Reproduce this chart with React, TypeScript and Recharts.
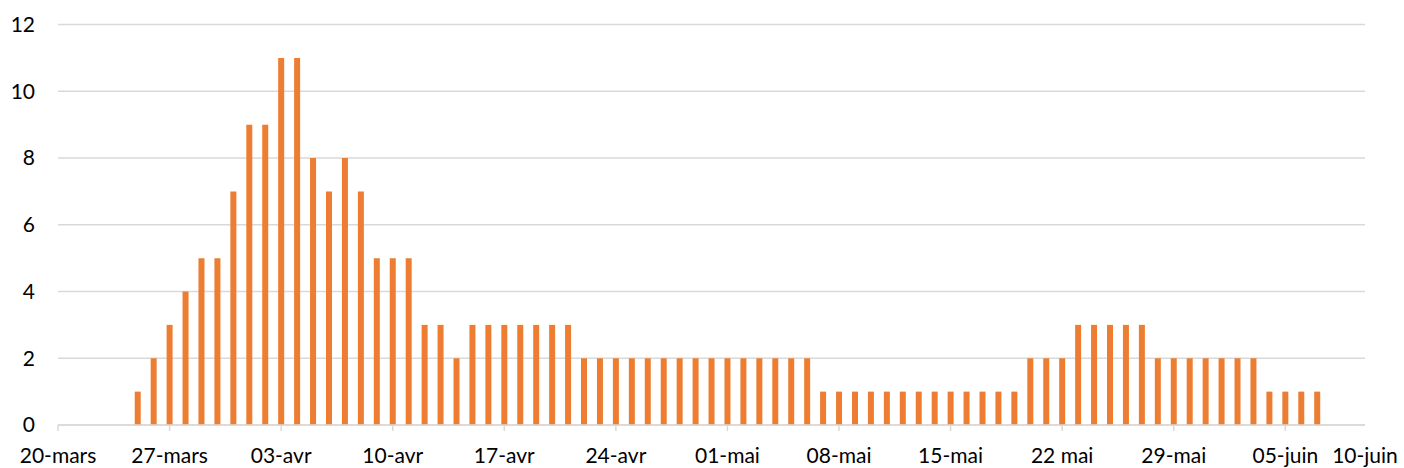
import React from "react";
import { BarChart, Bar, XAxis, YAxis, CartesianGrid } from "recharts";

// daily counts, first value is 25-mars (day 5 counted from 20-mars)
const FIRST_DAY = 5;
const dailyCounts = [
  1, 2, 3, 4, 5, 5, 7, 9, 9, 11, 11, 8, 7, 8, 7, 5, 5, 5, 3, 3, 2,
  3, 3, 3, 3, 3, 3, 3,
  2, 2, 2, 2, 2, 2, 2, 2, 2, 2, 2, 2, 2, 2, 2,
  1, 1, 1, 1, 1, 1, 1, 1, 1, 1, 1, 1, 1,
  2, 2, 2,
  3, 3, 3, 3, 3,
  2, 2, 2, 2, 2, 2, 2,
  1, 1, 1, 1,
];

const xTickDays = [0, 7, 14, 21, 28, 35, 42, 49, 56, 63, 70, 77, 82];
const xTickLabels = [
  "20-mars", "27-mars", "03-avr", "10-avr", "17-avr", "24-avr", "01-mai",
  "08-mai", "15-mai", "22 mai", "29-mai", "05-juin", "10-juin",
];
const yTicks = [0, 2, 4, 6, 8, 10, 12];

const data = dailyCounts.map((v, i) => ({ day: FIRST_DAY + i, value: v }));

const GRID = "#d9d9d9";
const FONT = "Lato, 'Open Sans', sans-serif";

function XTick(props: any) {
  const { x, y, payload } = props;
  const idx = xTickDays.indexOf(payload.value);
  const last = idx === xTickDays.length - 1;
  return (
    <g>
      {!last && (
        <line x1={x} x2={x} y1={y - 24} y2={y - 18} stroke={GRID} strokeWidth={1.5} />
      )}
      <text
        x={x}
        y={y}
        dy="0.68em"
        textAnchor="middle"
        fill="#000"
        fontSize={21}
        fontFamily={FONT}
      >
        {xTickLabels[idx]}
      </text>
    </g>
  );
}

export default function App() {
  return (
    <div style={{ position: "absolute", left: 0, top: 0, background: "#fff" }}>
      <BarChart
        width={1404}
        height={468}
        data={data}
        margin={{ top: 24.5, right: 39, left: 0, bottom: 0 }}
      >
        <CartesianGrid vertical={false} stroke={GRID} strokeWidth={1.5} />
        <XAxis
          dataKey="day"
          type="number"
          domain={[0, 82]}
          ticks={xTickDays}
          interval={0}
          height={43}
          tickSize={6}
          tickMargin={18}
          tickLine={false}
          axisLine={{ stroke: GRID, strokeWidth: 1.5 }}
          tick={<XTick />}
        />
        <YAxis
          domain={[0, 12]}
          ticks={yTicks}
          width={58}
          axisLine={false}
          tickLine={false}
          tickSize={0}
          tickMargin={23}
          tick={{ fill: "#000", fontSize: 21, fontFamily: FONT }}
        />
        <Bar dataKey="value" fill="#ED7D31" barSize={6} isAnimationActive={false} />
      </BarChart>
    </div>
  );
}
